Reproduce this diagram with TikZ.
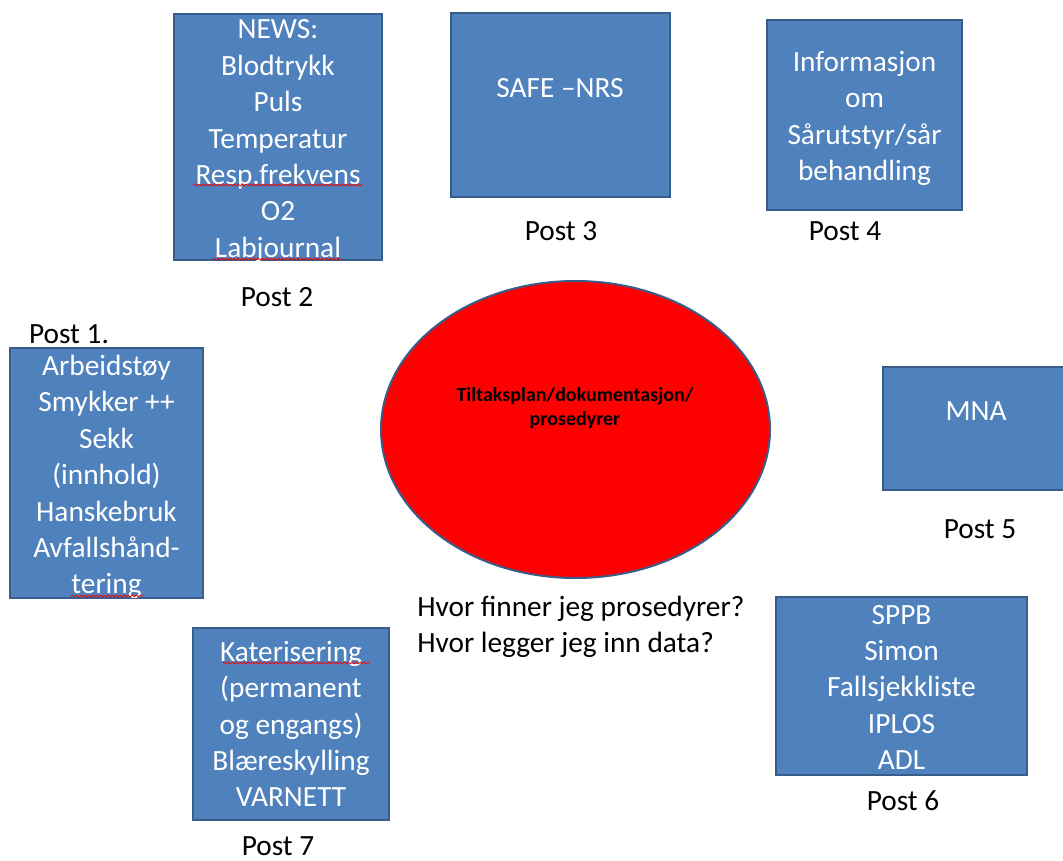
\documentclass[tikz,border=0pt]{standalone}
\usepackage{fontspec}
\setmainfont{Carlito}
\usepackage{tikz}
\usetikzlibrary{shapes.geometric, decorations.pathmorphing}
\definecolor{postblue}{HTML}{4F81BD}
\definecolor{postedge}{HTML}{385D8A}
\tikzset{
  postbox/.style={draw=postedge, fill=postblue, line width=1.8pt, inner sep=0pt},
  boxtext/.style={text=white, align=center, inner sep=0pt, font=\fontsize{22}{27.3}\selectfont},
  postlabel/.style={inner sep=0pt, font=\fontsize{22}{27}\selectfont},
  spell/.style={draw=red, line width=0.6pt, decorate, decoration={snake, amplitude=0.6pt, segment length=3pt}}
}

\begin{document}
\begin{tikzpicture}[x=0.75pt, y=-0.75pt]

\useasboundingbox (0,0) rectangle (1063,860);

% the boxes
\node[postbox, minimum width=144.75pt, minimum height=187.5pt] (post1) at (106.5,473) {};
\node[postbox, minimum width=156pt, minimum height=184.5pt] (post2) at (278,137) {};
\node[postbox, minimum width=164.25pt, minimum height=138pt] (post3) at (560.5,105) {};
\node[postbox, minimum width=146.25pt, minimum height=142.5pt] (post4) at (864.5,115) {};
\node[postbox, minimum width=147.75pt, minimum height=92.25pt] (post5) at (981.5,428.5) {};
\node[postbox, minimum width=188.25pt, minimum height=133.5pt] (post6) at (901.5,686) {};
\node[postbox, minimum width=147pt, minimum height=144pt] (post7) at (291,724) {};

% the middle
\node[ellipse, draw=postedge, fill=red, line width=1.5pt, inner sep=0pt,
      minimum width=291.75pt, minimum height=222.75pt] (plan) at (575.5,429.5) {};
\node[align=center, font=\bfseries\fontsize{15}{17.5}\selectfont] (plantext) at (575,408)
  {Tiltaksplan/dokumentasjon/\\prosedyrer};

% the texts in the boxes
\node[boxtext] (text1) at ([yshift=-3pt]post1.center) {Arbeidstøy\\Smykker ++\\Sekk\\(innhold)\\Hanskebruk\\Avfallshånd-\\tering};
\node[boxtext] (text2) at ([yshift=-3pt]post2.center) {NEWS:\\Blodtrykk\\Puls\\Temperatur\\Resp.frekvens\\O2\\Labjournal};
\node[boxtext] (text3) at (560,88) {SAFE –NRS};
\node[boxtext] (text4) at ([yshift=-2.5pt]post4.center) {Informasjon\\om\\Sårutstyr/sår\\behandling};
\node[boxtext] (text5) at (976,411) {MNA};
\node[boxtext] (text6) at ([yshift=-1pt]post6.center) {SPPB\\Simon\\Fallsjekkliste\\IPLOS\\ADL};
\node[boxtext] (text7) at (post7.center) {Katerisering\\(permanent\\og engangs)\\Blæreskylling\\VARNETT};

% spell check marks
\draw[spell] (193,185) -- (363,185);
\draw[spell] (213,259) -- (342,259);
\draw[spell] (71,596) -- (143,596);
\draw[spell] (223,663) -- (370,663);

% the post labels
\node[postlabel] (label1) at (69,334) {Post 1.};
\node[postlabel] (label2) at (277,297) {Post 2};
\node[postlabel] (label3) at (561,231) {Post 3};
\node[postlabel] (label4) at (845,231) {Post 4};
\node[postlabel] (label5) at (980,529) {Post 5};
\node[postlabel] (label6) at (903,801) {Post 6};
\node[postlabel] (label7) at (278,846) {Post 7};

\node[postlabel, align=left, anchor=west] (question) at (417,627)
  {Hvor finner jeg prosedyrer?\\Hvor legger jeg inn data?};

\end{tikzpicture}
\end{document}
